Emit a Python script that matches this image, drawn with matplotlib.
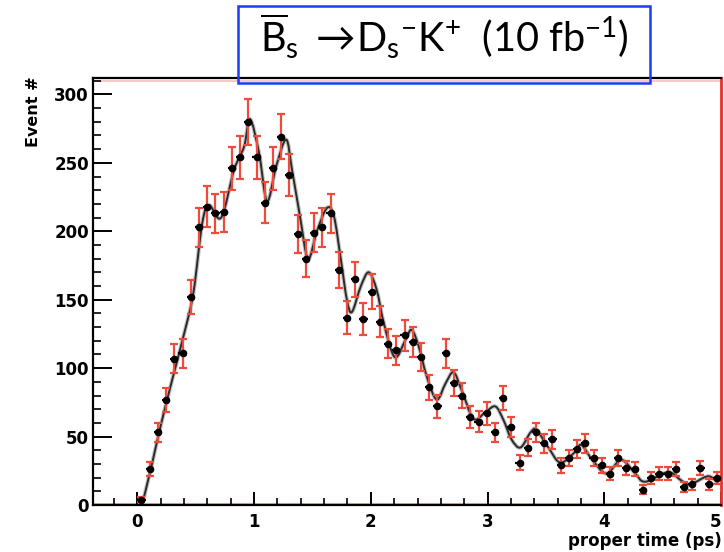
import numpy as np
import matplotlib
matplotlib.use("Agg")
import matplotlib.pyplot as plt
from matplotlib.patches import Rectangle, PathPatch
from matplotlib.path import Path
from matplotlib.ticker import MultipleLocator

# ---------------- data ----------------
bin_edges = np.linspace(0.0, 5.0, 72)
counts = [4, 26, 53, 77, 107, 111, 152, 203, 218, 213,
          214, 246, 254, 280, 254, 221, 246, 269, 241, 198,
          180, 199, 203, 213, 172, 137, 165, 136, 156, 134,
          118, 113, 124, 119, 108, 86, 72, 111, 89, 80,
          64, 61, 67, 53, 78, 57, 31, 42, 53, 45,
          48, 29, 34, 41, 45, 34, 29, 23, 34, 27,
          26, 11, 20, 23, 23, 26, 13, 15, 27, 15, 20]

fit_t = [0.04, 0.12, 0.20, 0.30, 0.40, 0.48, 0.556, 0.615, 0.718, 0.829,
         0.915, 0.965, 1.043, 1.111, 1.188, 1.274, 1.325, 1.393, 1.462, 1.538,
         1.624, 1.684, 1.744, 1.795, 1.838, 1.915, 1.983, 2.051, 2.111, 2.205,
         2.299, 2.350, 2.410, 2.479, 2.564, 2.641, 2.709, 2.778, 2.880, 2.983,
         3.068, 3.137, 3.205, 3.282, 3.368, 3.419, 3.521, 3.624, 3.752, 3.803,
         3.889, 4.017, 4.145, 4.265, 4.350, 4.547, 4.658, 4.735, 4.889, 4.974]
fit_y = [0, 28, 58, 92, 125, 155, 206, 219, 210, 245,
         262, 282, 257, 222, 247, 267, 245, 211, 180, 200,
         217, 211, 179, 150, 141, 160, 170, 157, 133, 108,
         121, 128, 116, 94, 77, 89, 97, 84, 63, 68,
         72, 62, 48, 42, 53, 55, 42, 31, 39, 44,
         34, 23, 33, 23, 17, 24, 18, 15, 21, 16]

x_ticks = [0, 1, 2, 3, 4, 5]
x_tick_labels = ['0', '1', '2', '3', '4', '5']
title_text = (r'$\overline{\mathrm{B}}_{\mathrm{s}}\ \rightarrow\!\mathrm{D}_{\mathrm{s}}{}^{-}'
              r'\mathrm{K}^{+}$  (10 fb$^{-1}$)')
x_label = 'proper time (ps)'
y_label = 'Event #'

# ---------------- figure ----------------
plt.rcParams['mathtext.fontset'] = 'custom'
plt.rcParams['mathtext.rm'] = 'Lato'
plt.rcParams['mathtext.it'] = 'Lato:italic'
plt.rcParams['mathtext.bf'] = 'Lato:bold'

W, H = 724, 552
fig = plt.figure(figsize=(W / 100, H / 100), dpi=100)
L, R, T, B = 93, 721, 78, 505
ax = fig.add_axes([L / W, 1 - B / H, (R - L) / W, (B - T) / H])

ax.set_xlim(-0.38, 5.0)
ax.set_ylim(0, 312)

t = 0.5 * (bin_edges[:-1] + bin_edges[1:])
bw = bin_edges[1] - bin_edges[0]
c = np.array(counts, dtype=float)
err = np.sqrt(c)

# smooth rendering of fit curve through the read points (Catmull-Rom -> Bezier)
P = np.column_stack([fit_t, fit_y])
verts = [tuple(P[0])]
codes = [Path.MOVETO]
n = len(P)
for i in range(n - 1):
    p0 = P[i - 1] if i > 0 else P[i]
    p1 = P[i]
    p2 = P[i + 1]
    p3 = P[i + 2] if i + 2 < n else P[i + 1]
    c1 = p1 + (p2 - p0) / 6.0
    c2 = p2 - (p3 - p1) / 6.0
    verts += [tuple(c1), tuple(c2), tuple(p2)]
    codes += [Path.CURVE4] * 3
ax.add_patch(PathPatch(Path(verts, codes), fill=False, edgecolor='#c4c4c4', lw=3.0, zorder=2))
ax.add_patch(PathPatch(Path(verts, codes), fill=False, edgecolor='#2a2a2a', lw=1.4, zorder=2))

# red vertical error bars
ax.errorbar(t, c, yerr=err, fmt='none', ecolor='#f04a3c', elinewidth=1.6,
            capsize=2.6, capthick=1.6, zorder=3)
# black points with horizontal bin-width bars
ax.errorbar(t, c, xerr=bw * 0.5, fmt='o', color='black', ms=4.5,
            elinewidth=1.6, capsize=0, zorder=4)

# frame-like red lines
ax.axhline(0.4, color='#f2a0a0', lw=1.5, zorder=1)
ax.axhline(309.5, color='#f5c0c0', lw=1.2, zorder=1)

for s in ['left', 'bottom', 'top']:
    ax.spines[s].set_linewidth(1.6)
    ax.spines[s].set_color('black')
ax.spines['right'].set_linewidth(2.0)
ax.spines['right'].set_color('#e8302a')

ax.set_xticks(x_ticks)
ax.set_xticklabels(x_tick_labels)
ax.xaxis.set_minor_locator(MultipleLocator(0.2))
ax.yaxis.set_major_locator(MultipleLocator(50))
ax.yaxis.set_minor_locator(MultipleLocator(10))

ax.tick_params(axis='x', which='major', direction='in', length=9.5, width=1.4,
               pad=6, labelsize=12)
ax.tick_params(axis='x', which='minor', direction='in', length=5, width=1.2)
ax.tick_params(axis='y', which='major', direction='in', length=14, width=1.4,
               pad=3, labelsize=12)
ax.tick_params(axis='y', which='minor', direction='in', length=6, width=1.2)
ax.tick_params(top=False, right=False, which='both')
for lab in ax.get_xticklabels() + ax.get_yticklabels():
    lab.set_fontweight('bold')
    lab.set_family('DejaVu Sans')
# keep the last x label inside the canvas (it sits at the right edge)
ax.get_xticklabels()[-1].set_horizontalalignment('right')

fig.text(722 / W, 1 - 541 / H, x_label, ha='right', va='center',
         fontsize=12, fontweight='bold', family='DejaVu Sans')
fig.text(33 / W, 1 - 76 / H, y_label, rotation=90, ha='center', va='top',
         fontsize=11.5, fontweight='bold', family='DejaVu Sans')

# title box
fig.add_artist(Rectangle((238 / W, 1 - 83 / H), (650 - 238) / W, (83 - 6) / H,
                         transform=fig.transFigure, fill=False,
                         edgecolor='#1a3cf5', lw=1.8, zorder=10))
fig.text(444 / W, 1 - 53 / H, title_text, ha='center', va='baseline',
         fontsize=28.5, family='Lato', color='black', zorder=11)

fig.savefig('out.png', dpi=100)
